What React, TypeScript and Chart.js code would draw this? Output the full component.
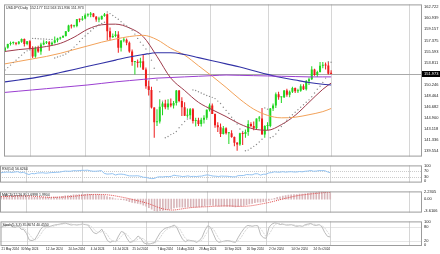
import React, { useEffect, useRef } from "react";
import { Chart, registerables } from "chart.js";

Chart.register(...registerables);

// ---------------- DATA ----------------
const dates = [
  "21 May 2024","22 May 2024","23 May 2024","24 May 2024","27 May 2024","28 May 2024","29 May 2024","30 May 2024","31 May 2024",
  "3 Jun 2024","4 Jun 2024","5 Jun 2024","6 Jun 2024","7 Jun 2024","10 Jun 2024","11 Jun 2024","12 Jun 2024","13 Jun 2024","14 Jun 2024","17 Jun 2024","18 Jun 2024","19 Jun 2024","20 Jun 2024","21 Jun 2024","24 Jun 2024","25 Jun 2024","26 Jun 2024","27 Jun 2024","28 Jun 2024",
  "1 Jul 2024","2 Jul 2024","3 Jul 2024","4 Jul 2024","5 Jul 2024","8 Jul 2024","9 Jul 2024","10 Jul 2024","11 Jul 2024","12 Jul 2024","15 Jul 2024","16 Jul 2024","17 Jul 2024","18 Jul 2024","19 Jul 2024","22 Jul 2024","23 Jul 2024","24 Jul 2024","25 Jul 2024","26 Jul 2024","29 Jul 2024","30 Jul 2024","31 Jul 2024",
  "1 Aug 2024","2 Aug 2024","5 Aug 2024","6 Aug 2024","7 Aug 2024","8 Aug 2024","9 Aug 2024","12 Aug 2024","13 Aug 2024","14 Aug 2024","15 Aug 2024","16 Aug 2024","19 Aug 2024","20 Aug 2024","21 Aug 2024","22 Aug 2024","23 Aug 2024","26 Aug 2024","27 Aug 2024","28 Aug 2024","29 Aug 2024","30 Aug 2024",
  "2 Sep 2024","3 Sep 2024","4 Sep 2024","5 Sep 2024","6 Sep 2024","9 Sep 2024","10 Sep 2024","11 Sep 2024","12 Sep 2024","13 Sep 2024","16 Sep 2024","17 Sep 2024","18 Sep 2024","19 Sep 2024","20 Sep 2024","23 Sep 2024","24 Sep 2024","25 Sep 2024","26 Sep 2024","27 Sep 2024","30 Sep 2024",
  "1 Oct 2024","2 Oct 2024","3 Oct 2024","4 Oct 2024","7 Oct 2024","8 Oct 2024","9 Oct 2024","10 Oct 2024","11 Oct 2024","14 Oct 2024","15 Oct 2024","16 Oct 2024","17 Oct 2024","18 Oct 2024","21 Oct 2024","22 Oct 2024","23 Oct 2024","24 Oct 2024","25 Oct 2024","28 Oct 2024","29 Oct 2024","30 Oct 2024","31 Oct 2024",
  "1 Nov 2024",
];

const opens = [
  155.70,156.20,156.80,156.95,157.00,156.85,157.15,157.60,156.80,157.25,
  156.10,154.80,156.10,155.60,156.70,157.00,157.10,156.70,157.00,157.40,
  157.70,157.85,158.10,158.85,159.80,159.65,159.70,160.80,160.70,160.90,
  161.45,161.50,161.70,161.20,160.75,160.80,161.30,161.60,158.85,157.90,
  158.10,158.35,156.20,157.35,157.50,157.00,155.60,153.90,153.95,153.75,
  154.00,152.70,150.00,149.40,146.55,144.20,144.30,146.70,147.20,146.60,
  147.20,146.90,147.30,149.30,147.60,146.60,145.25,145.30,146.30,144.40,
  144.50,143.90,144.60,144.90,146.20,146.90,145.50,143.70,143.40,142.30,
  143.20,142.40,142.40,141.80,140.90,140.60,142.40,142.30,142.60,143.90,
  143.60,143.20,144.80,144.80,142.20,143.60,143.60,146.40,146.90,148.70,
  148.20,148.20,149.30,148.60,149.10,149.70,149.20,149.25,150.00,149.50,
  150.80,151.10,152.70,151.80,152.30,153.30,153.40,153.35,152.177,
];
const highs = [
  156.35,156.85,157.20,157.20,157.10,157.30,157.70,157.70,157.30,157.40,
  156.45,156.40,156.50,157.00,157.40,157.30,157.30,157.20,158.00,157.80,
  157.95,158.20,158.90,159.90,160.00,159.90,160.85,160.90,161.30,161.70,
  161.75,161.95,161.80,161.30,161.20,161.40,161.80,161.70,159.45,158.50,
  158.90,158.85,157.40,157.90,157.70,157.20,155.90,154.00,154.30,154.60,
  155.20,153.00,150.90,149.90,146.60,146.30,147.90,147.50,147.80,147.90,
  148.00,147.60,149.40,149.40,148.20,147.40,146.40,146.50,146.50,144.90,
  144.90,144.90,145.30,146.25,147.20,147.20,145.60,144.20,144.00,143.60,
  143.40,142.60,142.90,141.90,141.00,142.50,142.60,143.00,144.50,144.20,
  144.30,144.80,145.20,146.50,143.70,144.20,146.50,147.20,149.00,149.10,
  148.30,149.40,149.60,149.30,149.90,149.80,149.60,150.30,150.30,151.00,
  151.40,153.20,152.80,152.50,153.90,153.90,153.80,153.90,152.563,
];
const lows = [
  155.55,156.05,156.55,156.70,156.60,156.70,157.00,156.40,156.60,155.90,
  154.55,154.60,155.40,155.05,156.60,156.80,155.70,156.60,156.90,157.10,
  157.50,157.75,158.00,158.75,159.30,159.45,159.50,160.30,160.55,160.80,
  161.20,161.10,161.10,160.40,160.30,160.70,161.20,157.40,157.40,157.80,
  157.90,155.40,155.60,157.10,156.60,155.40,153.30,151.90,153.00,153.00,
  152.60,149.60,148.50,146.40,141.70,143.60,144.00,145.30,146.30,146.20,
  146.60,146.40,146.90,147.40,145.20,145.20,144.90,144.80,144.00,143.50,
  143.60,143.50,144.00,144.60,145.90,145.50,143.30,142.60,141.80,142.20,
  142.20,140.70,141.70,140.30,139.58,140.40,140.50,141.70,142.00,143.40,
  142.90,143.00,144.30,142.20,141.70,142.90,143.40,146.00,146.50,147.80,
  147.30,148.10,148.30,148.20,148.90,148.90,148.90,149.10,149.40,149.30,
  150.20,151.00,151.70,151.50,152.20,152.90,152.70,151.90,151.936,
];
const closes = [
  156.20,156.80,156.95,157.00,156.85,157.15,157.60,156.80,157.25,156.10,
  154.80,156.10,155.60,156.70,157.00,157.10,156.70,157.00,157.40,157.70,
  157.85,158.10,158.85,159.80,159.65,159.70,160.80,160.70,160.90,161.45,
  161.50,161.70,161.20,160.75,160.80,161.30,161.60,158.85,157.90,158.10,
  158.35,156.20,157.35,157.50,157.00,155.60,153.90,153.95,153.75,154.00,
  152.70,150.00,149.40,146.55,144.20,144.30,146.70,147.20,146.60,147.20,
  146.90,147.30,149.30,147.60,146.60,145.25,145.30,146.30,144.40,144.50,
  143.90,144.60,144.90,146.20,146.90,145.50,143.70,143.40,142.30,143.20,
  142.40,142.40,141.80,140.90,140.60,142.40,142.30,142.60,143.90,143.60,
  143.20,144.80,144.80,142.20,143.60,143.60,146.40,146.90,148.70,148.20,
  148.20,149.30,148.60,149.10,149.70,149.20,149.25,150.00,149.50,150.80,
  151.10,152.70,151.80,152.30,153.30,153.40,153.35,152.00,151.973,
];

// Parabolic SAR dots
const sar = [
  152.60,153.00,153.40,153.80,154.20,154.60,155.00,155.40,155.70,155.85,
  157.70,157.68,157.65,157.62,157.60,157.58,157.55,157.52,
  154.55,154.70,154.85,155.00,155.20,155.50,155.90,156.30,156.70,157.20,157.70,158.10,158.50,158.90,159.30,159.60,159.90,160.10,160.30,
  161.95,161.70,161.40,161.10,160.80,160.40,160.00,159.70,159.40,159.00,158.40,157.70,157.10,156.60,156.00,155.20,154.20,152.90,151.00,149.10,147.60,
  141.70,141.90,142.20,142.40,142.70,143.30,143.80,144.30,144.70,144.75,
  149.40,149.30,149.10,148.90,148.70,148.50,148.35,148.20,148.00,147.60,147.20,146.60,146.10,145.60,145.00,144.50,143.90,143.10,142.70,
  139.60,139.70,140.00,140.30,140.60,141.00,141.45,
  146.50,146.30,
  141.70,141.90,142.30,142.90,143.50,144.00,144.50,145.00,145.40,145.80,146.20,146.60,147.00,147.40,147.80,148.30,148.90,149.50,150.00,150.60,151.30,
  153.95,153.85,
];

// moving averages, read at these bar numbers
const maBars = [0,5,10,15,20,25,30,35,40,45,50,55,60,65,70,75,80,85,90,95,100,105,110,115,118];
const maFast = [155.6,155.9,156.1,156.4,156.9,157.9,159.2,159.9,160.0,159.4,158.0,154.8,151.3,149.3,147.4,146.2,145.1,143.9,143.1,142.9,143.8,145.3,147.4,149.5,150.5];
const maMid = [153.6,154.0,154.4,154.8,155.3,155.9,156.5,157.1,157.6,158.0,158.2,157.5,156.1,155.0,153.3,151.6,149.8,147.9,146.3,145.3,144.9,145.0,145.4,145.9,146.4];
const maSlow = [150.7,151.0,151.3,151.7,152.2,152.7,153.2,153.7,154.2,154.7,155.1,155.4,155.4,155.1,154.6,154.1,153.6,153.1,152.5,151.9,151.4,151.0,150.6,150.3,150.2];
const maLong = [149.0,149.2,149.4,149.6,149.8,150.0,150.2,150.45,150.7,150.9,151.1,151.3,151.4,151.5,151.6,151.7,151.8,151.75,151.7,151.65,151.6,151.55,151.5,151.5,151.5];

const rsi = [
  56,59,60,60,58,61,63,56,59,
  51,44,51,49,54,55,56,53,55,57,
  58,59,60,64,67,66,66,70,69,70,
  72,72,73,69,66,66,68,70,
  52,47,48,50,41,46,47,45,40,35,35,35,36,32,26,
  25,20,17,18,
  27,29,28,31,30,32,40,36,34,31,32,35,31,32,31,33,34,39,
  42,38,34,33,31,34,33,33,31,29,29,
  37,37,38,44,43,42,49,49,40,46,46,
  55,57,62,60,60,63,60,62,63,61,61,
  64,62,66,67,71,66,67,70,70,70,62,56.6,
];

const macdMain = [
  0.85,0.90,0.95,0.98,0.98,1.00,1.05,1.00,0.98,
  0.90,0.70,0.62,0.52,0.52,0.55,0.57,0.53,0.53,0.57,
  0.62,0.66,0.72,0.83,0.98,1.08,1.14,1.27,1.33,1.38,
  1.45,1.48,1.50,1.47,1.40,1.33,1.31,1.30,
  1.05,0.75,0.55,0.40,0.10,-0.02,-0.12,-0.25,-0.46,
  -0.75,-0.97,-1.15,-1.26,-1.45,-1.80,-2.10,-2.55,-3.05,-3.45,
  -3.61,-3.50,-3.40,-3.25,-3.10,-2.95,-2.65,-2.50,-2.42,
  -2.45,-2.45,-2.35,-2.40,-2.40,-2.42,-2.34,-2.24,-2.04,
  -1.84,-1.80,-1.88,-1.98,-2.12,-2.12,-2.16,-2.17,-2.22,-2.30,-2.36,
  -2.22,-2.07,-1.92,-1.68,-1.48,-1.32,-1.08,-0.88,-0.88,-0.78,-0.68,
  -0.38,-0.08,0.28,0.52,0.72,0.95,1.08,1.20,1.33,1.38,1.42,
  1.50,1.54,1.64,1.74,1.94,2.02,2.08,2.18,2.23,2.10,1.88,1.70,
];
const macdSignal = [
  0.75,0.78,0.82,0.86,0.89,0.92,0.95,0.97,0.98,
  0.98,0.95,0.91,0.85,0.79,0.74,0.69,0.63,0.58,0.56,
  0.56,0.57,0.59,0.62,0.66,0.72,0.79,0.87,0.96,1.05,
  1.14,1.23,1.31,1.37,1.41,1.43,1.42,1.41,
  1.38,1.32,1.23,1.12,0.98,0.82,0.66,0.50,0.33,
  0.14,-0.07,-0.28,-0.48,-0.68,-0.90,-1.14,-1.41,-1.71,-2.05,
  -2.38,-2.68,-2.93,-3.12,-3.25,-3.30,-3.28,-3.19,-3.06,
  -2.93,-2.80,-2.67,-2.57,-2.48,-2.43,-2.39,-2.36,-2.32,
  -2.28,-2.23,-2.18,-2.14,-2.12,-2.08,-2.05,-2.04,-2.05,-2.09,-2.15,
  -2.18,-2.19,-2.17,-2.13,-2.06,-1.96,-1.83,-1.67,-1.51,-1.35,-1.18,
  -1.01,-0.82,-0.61,-0.39,-0.16,0.05,0.26,0.45,0.65,0.85,1.02,
  1.16,1.28,1.38,1.47,1.57,1.66,1.75,1.84,1.93,1.99,2.01,1.99,
];

const stochMain = [
  80,85,88,88,80,78,85,70,68,
  50,22,20,25,45,68,82,80,80,85,
  88,90,92,95,96,92,88,90,88,90,
  92,90,88,72,55,50,58,70,
  45,20,12,18,15,40,60,55,30,12,15,25,40,30,10,
  6,5,8,12,
  35,55,68,75,78,82,88,75,48,25,15,22,20,18,12,20,35,65,
  85,78,50,22,12,15,18,20,18,14,12,
  35,55,72,85,86,82,86,85,45,32,30,
  78,92,97,95,90,92,88,88,90,85,82,
  85,82,90,92,95,88,86,90,80,55,38,35.8,
];
const stochSignal = [
  78,80,84,87,85,82,81,78,74,
  63,47,31,22,30,46,65,77,81,82,
  84,88,90,92,94,94,92,90,89,89,
  90,91,90,83,72,59,54,59,
  58,45,26,17,15,24,38,52,48,32,19,17,27,32,27,
  15,7,6,8,
  18,34,53,66,74,78,83,82,70,49,29,21,19,20,17,17,22,40,
  62,76,71,50,28,16,15,18,19,17,15,
  20,34,54,71,81,84,85,84,72,54,36,
  47,67,89,95,94,92,90,89,89,88,86,
  84,83,86,88,92,92,90,88,85,75,58,40.5,
];

const priceTicks = [162.722,160.939,159.157,157.375,155.593,153.811,150.246,148.464,146.682,144.900,143.118,141.336,139.554];
const lastPrice = 151.973;
const rsiTicks = [100, 70, 30, 0];
const rsiLevels = [70, 30];
const macdTicks = [2.2305, 0, -3.6106];
const stochTicks = [100, 80, 20, 0];
const stochLevels = [80, 20];
const dateTickLabels = [
  "21 May 2024","30 May 2024","12 Jun 2024","24 Jun 2024","4 Jul 2024","16 Jul 2024","25 Jul 2024",
  "7 Aug 2024","16 Aug 2024","28 Aug 2024","10 Sep 2024","20 Sep 2024","2 Oct 2024","14 Oct 2024","24 Oct 2024",
];
const monthStartDates = ["3 Jun 2024","1 Jul 2024","1 Aug 2024","2 Sep 2024","1 Oct 2024","1 Nov 2024"];

const mainTitle = "USDJPY,Daily  152.177 152.563 151.936 151.973";
const rsiTitle = "RSI(14) 56.6264";
const macdTitle = "MACD(12,26,9) 1.6998 1.9904";
const stochTitle = "Stoch(5,3,3) 35.8074 40.4550";

// ---------------- LAYOUT / STYLE ----------------
const X_MIN = -0.36;
const X_MAX = 150.89;
const SHIFT_SLOT = 146.24;
const AXIS_W = 18;
const FONT = '"Liberation Sans", Arial, sans-serif';
const BULL = "#1fd51f";
const BEAR = "#ee1c1c";

const gridSlots = [...monthStartDates.map((d) => dates.indexOf(d)), SHIFT_SLOT];

function decor(o: { title: string; levels?: number[]; price?: number; priceText?: string }) {
  return {
    id: "decor",
    beforeDatasetsDraw(chart: any) {
      const { ctx, chartArea: a, scales } = chart;
      ctx.save();
      ctx.lineWidth = 1;
      ctx.strokeStyle = "#d6d6d6";
      ctx.beginPath();
      for (const i of gridSlots) {
        const px = Math.round(scales.x.getPixelForValue(i)) + 0.5;
        ctx.moveTo(px, a.top);
        ctx.lineTo(px, a.bottom);
      }
      ctx.stroke();
      if (o.levels) {
        ctx.strokeStyle = "#cccccc";
        ctx.setLineDash([1, 1]);
        ctx.beginPath();
        for (const v of o.levels) {
          const py = Math.round(scales.y.getPixelForValue(v)) + 0.5;
          ctx.moveTo(a.left, py);
          ctx.lineTo(a.right, py);
        }
        ctx.stroke();
        ctx.setLineDash([]);
      }
      if (o.price !== undefined) {
        const py = Math.round(scales.y.getPixelForValue(o.price)) + 0.5;
        ctx.strokeStyle = "#a9a9a9";
        ctx.beginPath();
        ctx.moveTo(a.left, py);
        ctx.lineTo(a.right, py);
        ctx.stroke();
      }
      ctx.restore();
    },
    afterDraw(chart: any) {
      const { ctx, chartArea: a, scales } = chart;
      ctx.save();
      ctx.strokeStyle = "#9c9c9c";
      ctx.lineWidth = 1;
      ctx.strokeRect(a.left + 0.5, a.top + 0.5, a.right - a.left - 1, a.bottom - a.top - 1);
      ctx.fillStyle = "#1a1a1a";
      ctx.font = `3.5px ${FONT}`;
      ctx.textBaseline = "middle";
      ctx.textAlign = "left";
      ctx.fillText(o.title, a.left + 2, a.top + 3.2);
      if (o.price !== undefined && o.priceText) {
        const py = scales.y.getPixelForValue(o.price);
        ctx.fillStyle = "#000";
        ctx.fillRect(a.right, Math.round(py) - 3, AXIS_W, 6);
        ctx.fillStyle = "#fff";
        ctx.font = `4px ${FONT}`;
        ctx.fillText(o.priceText, a.right + 2, Math.round(py));
      }
      ctx.restore();
    },
  };
}

function yAxis(min: number, max: number, ticks: number[], fmt: (v: number) => string) {
  return {
    type: "linear",
    position: "right",
    min,
    max,
    grid: { display: false, drawTicks: false },
    border: { display: false },
    afterBuildTicks: (s: any) => {
      s.ticks = ticks.map((v) => ({ value: v }));
    },
    afterFit: (s: any) => {
      s.width = AXIS_W;
    },
    ticks: {
      autoSkip: false,
      padding: 2,
      color: "#1a1a1a",
      font: { size: 4, family: FONT },
      callback: (v: any) => fmt(Number(v)),
    },
  };
}

function xAxis(show: boolean) {
  const base: any = {
    type: "linear",
    min: X_MIN,
    max: X_MAX,
    offset: false,
    display: show,
    grid: { display: false, drawTicks: false },
    border: { display: false },
  };
  if (show) {
    base.afterBuildTicks = (s: any) => {
      s.ticks = dateTickLabels.map((l) => ({ value: dates.indexOf(l) }));
    };
    base.afterFit = (s: any) => {
      s.height = 8;
    };
    base.ticks = {
      autoSkip: false,
      maxRotation: 0,
      minRotation: 0,
      align: "start",
      padding: 1.5,
      color: "#1a1a1a",
      font: { size: 3, family: FONT },
      callback: (v: any) => dates[Number(v)],
    };
  }
  return base;
}

const commonOpts = (padTop: number, padBottom: number) => ({
  responsive: false,
  animation: false as const,
  devicePixelRatio: 1,
  layout: { padding: { left: 0, right: 0, top: padTop, bottom: padBottom } },
  plugins: { legend: { display: false }, tooltip: { enabled: false } },
  events: [] as any[],
});

const pts = (vals: number[]) => vals.map((v, i) => ({ x: i, y: v }));
const maPts = (vals: number[]) => maBars.map((b, k) => ({ x: b, y: vals[k] }));

export default function App() {
  const mainRef = useRef<HTMLCanvasElement>(null);
  const rsiRef = useRef<HTMLCanvasElement>(null);
  const macdRef = useRef<HTMLCanvasElement>(null);
  const stochRef = useRef<HTMLCanvasElement>(null);

  useEffect(() => {
    const charts: Chart[] = [];
    const candleColors = closes.map((c, i) => (c >= opens[i] ? BULL : BEAR));
    const maLine = (data: any[], color: string, order: number, w = 1) => ({
      type: "line",
      data,
      borderColor: color,
      borderWidth: w,
      pointRadius: 0,
      cubicInterpolationMode: "monotone",
      order,
    });

    charts.push(
      new Chart(mainRef.current as HTMLCanvasElement, {
        type: "bar",
        data: {
          datasets: [
            {
              type: "line",
              data: pts(sar),
              showLine: false,
              pointRadius: 0.7,
              pointBackgroundColor: "#8c8c8c",
              pointBorderWidth: 0,
              order: 0,
            },
            maLine(maPts(maLong), "#9b3fd1", 1),
            maLine(maPts(maSlow), "#3232a6", 1, 1.1),
            maLine(maPts(maMid), "#f2a25a", 1),
            maLine(maPts(maFast), "#9e3b4b", 1),
            {
              type: "bar",
              data: highs.map((h, i) => ({ x: i, y: [lows[i], h] })),
              backgroundColor: candleColors,
              maxBarThickness: 1,
              grouped: false,
              order: 6,
            },
            {
              type: "bar",
              data: opens.map((o, i) => ({ x: i, y: [o, closes[i]] })),
              backgroundColor: candleColors,
              maxBarThickness: 2,
              minBarLength: 1,
              grouped: false,
              order: 5,
            },
          ] as any,
        },
        options: {
          ...commonOpts(1, 1),
          scales: {
            x: xAxis(false),
            y: yAxis(138.65, 163.184, priceTicks, (v) => v.toFixed(3)),
          },
        } as any,
        plugins: [decor({ title: mainTitle, price: lastPrice, priceText: lastPrice.toFixed(3) })],
      })
    );

    charts.push(
      new Chart(rsiRef.current as HTMLCanvasElement, {
        type: "line",
        data: {
          datasets: [
            { data: pts(rsi), borderColor: "#93c2f0", borderWidth: 1, pointRadius: 0, tension: 0 },
          ] as any,
        },
        options: {
          ...commonOpts(1, 1),
          scales: {
            x: xAxis(false),
            y: yAxis(-9.5, 104.8, rsiTicks, (v) => String(v)),
          },
        } as any,
        plugins: [decor({ title: rsiTitle, levels: rsiLevels })],
      })
    );

    charts.push(
      new Chart(macdRef.current as HTMLCanvasElement, {
        type: "bar",
        data: {
          datasets: [
            {
              type: "line",
              data: pts(macdSignal),
              borderColor: "#e04848",
              borderWidth: 1,
              borderDash: [1, 1],
              pointRadius: 0,
              order: 0,
            },
            {
              type: "bar",
              data: pts(macdMain),
              backgroundColor: "#d8b6ba",
              maxBarThickness: 1,
              barThickness: 1,
              order: 1,
            },
          ] as any,
        },
        options: {
          ...commonOpts(1, 1),
          scales: {
            x: xAxis(false),
            y: yAxis(-4.069, 2.345, macdTicks, (v) => (v === 0 ? "0.00" : v.toFixed(4))),
          },
        } as any,
        plugins: [decor({ title: macdTitle })],
      })
    );

    charts.push(
      new Chart(stochRef.current as HTMLCanvasElement, {
        type: "line",
        data: {
          datasets: [
            { data: pts(stochSignal), borderColor: "#d6d6d6", borderWidth: 1, borderDash: [2, 1], pointRadius: 0 },
            { data: pts(stochMain), borderColor: "#bababa", borderWidth: 1, pointRadius: 0 },
          ] as any,
        },
        options: {
          ...commonOpts(1, 0),
          scales: {
            x: xAxis(true),
            y: yAxis(-3.85, 103.85, stochTicks, (v) => String(v)),
          },
        } as any,
        plugins: [decor({ title: stochTitle, levels: stochLevels })],
      })
    );

    return () => charts.forEach((c) => c.destroy());
  }, []);

  const cv = (top: number, h: number): React.CSSProperties => ({
    position: "absolute",
    left: 0,
    top,
    width: 440,
    height: h,
    display: "block",
  });

  return (
    <div
      style={{
        position: "fixed",
        left: 0,
        top: 0,
        width: 440,
        height: 254,
        background: "#ffffff",
        overflow: "hidden",
      }}
    >
      <canvas ref={mainRef} width={440} height={161} style={cv(0, 161)} />
      <canvas ref={rsiRef} width={440} height={26} style={cv(161, 26)} />
      <canvas ref={macdRef} width={440} height={30} style={cv(187, 30)} />
      <canvas ref={stochRef} width={440} height={37} style={cv(217, 37)} />
    </div>
  );
}
